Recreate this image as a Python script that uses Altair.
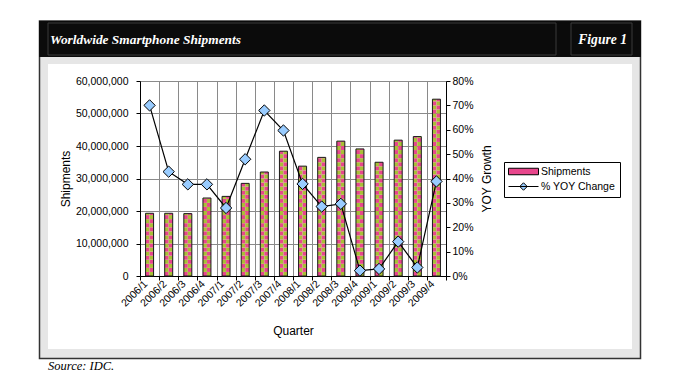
import math
import altair as alt
import pandas as pd

# ---------------- data ----------------
quarters = ["2006/1", "2006/2", "2006/3", "2006/4", "2007/1", "2007/2", "2007/3", "2007/4",
            "2008/1", "2008/2", "2008/3", "2008/4", "2009/1", "2009/2", "2009/3", "2009/4"]
shipments = [19.3e6, 19.3e6, 19.2e6, 24.0e6, 24.5e6, 28.5e6, 32.0e6, 38.4e6,
             33.8e6, 36.5e6, 41.5e6, 39.1e6, 35.0e6, 41.8e6, 42.9e6, 54.4e6]
yoy_growth = [0.700, 0.428, 0.376, 0.376, 0.279, 0.479, 0.679, 0.597,
              0.378, 0.285, 0.296, 0.022, 0.029, 0.141, 0.035, 0.388]
series = ["Shipments", "% YOY Change"]
ship_ticks = [0, 10e6, 20e6, 30e6, 40e6, 50e6, 60e6]
pct_ticks = [0, 0.1, 0.2, 0.3, 0.4, 0.5, 0.6, 0.7, 0.8]

title_text = "Worldwide Smartphone Shipments"
figure_text = "Figure 1"
source_text = "Source: IDC."

# ---------------- styles ----------------
PINK = "#e8468c"
GREEN = "#a9bf35"
BLUE = "#99ccff"
GRID = "#8a8a8a"
PANEL = "#e6e6e6"
DARK = "#333333"
CELL = 1.25e6  # height of one checker cell (in shipment units)

W, H = 306, 195
OX, OY = 140, 81  # page position of plot origin


def px(x):
    return x - OX


def py(y):
    return y - OY


main = pd.DataFrame({"quarter": quarters, "shipments": shipments, "yoy": yoy_growth})
rows = []
for q, v in zip(quarters, shipments):
    n = math.ceil(v / CELL)
    for k in range(n):
        rows.append({"quarter": q, "lo": k * CELL, "hi": min((k + 1) * CELL, v), "par": k % 2})
cells = pd.DataFrame(rows)
legend_df = pd.DataFrame({"series": series})
one = pd.DataFrame({"k": [0]})


def rect(x1, y1, x2, y2, **kw):
    return alt.Chart(one).mark_rect(**kw).encode(
        x=alt.value(px(x1)), x2=alt.value(px(x2)),
        y=alt.value(py(y1)), y2=alt.value(py(y2)))


def text(x, y, s, **kw):
    return alt.Chart(one).mark_text(**kw).encode(
        x=alt.value(px(x)), y=alt.value(py(y)), text=alt.value(s))


xs = alt.Scale(paddingInner=0, paddingOuter=0)
x_axis = alt.Axis(title="Quarter", labelAngle=315, labelAlign="right", labelBaseline="middle",
                  labelPadding=2, labelOffset=-4, tickBand="extent", grid=True, gridColor=GRID,
                  tickSize=4, labelOverlap=False, titleX=W / 2, titleY=58,
                  titleBaseline="alphabetic")
X = alt.X("quarter:N", sort=quarters, scale=xs, axis=x_axis)

ys = alt.Scale(domain=[0, 60e6], nice=False)
yl_axis = alt.Axis(orient="left", values=ship_ticks, format=",.0f", grid=True, gridColor=GRID,
                   tickSize=4, labelPadding=8, title="Shipments", titleAngle=270,
                   titleX=-75, titleY=H / 2, titleBaseline="middle", titleAlign="center")
yr_axis = alt.Axis(orient="right", values=pct_ticks, format=".0%", grid=False, tickSize=4,
                   labelPadding=2, title="YOY Growth", titleAngle=270, titleX=40,
                   titleY=H / 2, titleBaseline="middle", titleAlign="center")
cscale = alt.Scale(domain=[0, 1], range=[PINK, GREEN])

cells_l = alt.Chart(cells).mark_bar(width=4, xOffset=-2).encode(
    x=X, y=alt.Y("lo:Q", scale=ys, axis=yl_axis), y2="hi:Q",
    color=alt.Color("par:N", scale=cscale, legend=None))
cells_r = alt.Chart(cells).transform_calculate(pr="1 - datum.par").mark_bar(width=4, xOffset=2).encode(
    x=X, y=alt.Y("lo:Q", scale=ys, axis=yl_axis), y2="hi:Q",
    color=alt.Color("pr:N", scale=cscale, legend=None))
outline = alt.Chart(main).mark_bar(width=8, fillOpacity=0, stroke="#1a1a1a", strokeWidth=1).encode(
    x=X, y=alt.Y("shipments:Q", scale=ys, axis=yl_axis))
ship_layer = alt.layer(cells_l, cells_r, outline)

line = alt.Chart(main).mark_line(color="black", strokeWidth=1.2).encode(
    x=X, y=alt.Y("yoy:Q", scale=alt.Scale(domain=[0, 0.8], nice=False), axis=yr_axis))
pts = alt.Chart(main).mark_point(shape="diamond", filled=True, fill=BLUE, stroke="black",
                                 strokeWidth=1, size=128, opacity=1).encode(
    x=X, y=alt.Y("yoy:Q", scale=alt.Scale(domain=[0, 0.8], nice=False), axis=yr_axis))
pct_layer = alt.layer(line, pts)

# legend symbols: unit = 5px (symbolSize 100), shifted right so they span ~30px
rect_path = "M-1,-0.65H5V0.65H-1Z"
line_path = "M-1,0H5M2,-0.75L2.75,0L2,0.75L1.25,0Z"
leg = alt.Legend(title=None, orient="none", legendX=364, legendY=81, strokeColor="black",
                 fillColor="white", padding=4, symbolSize=100, labelOffset=22,
                 symbolStrokeWidth=1, labelFontSize=10.5, symbolOpacity=1,
                 labelFont="Liberation Sans", labelColor="black", rowPadding=3)
dummy = alt.Chart(legend_df).mark_point(filled=True, strokeWidth=1, size=100, opacity=1).encode(
    x=alt.value(300), y=alt.value(-42),
    fill=alt.Fill("series:N", sort=series, scale=alt.Scale(domain=series, range=[PINK, BLUE]), legend=leg),
    stroke=alt.Stroke("series:N", sort=series, scale=alt.Scale(domain=series, range=["black", "black"]), legend=leg),
    shape=alt.Shape("series:N", sort=series, scale=alt.Scale(domain=series, range=[rect_path, line_path]), legend=leg))

# ---------------- decoration ----------------
bounds = rect(8, 8, 664, 380, fill="transparent")
strip_t = rect(48, 57, 632, 64, fill=PANEL)
strip_b = rect(48, 349, 632, 358, fill=PANEL)
strip_l = rect(39, 57, 48, 358, fill=PANEL)
strip_r = rect(632, 57, 641, 358, fill=PANEL)
border = rect(39.5, 21, 640.5, 358.5, fill="transparent", stroke=DARK, strokeWidth=1.5)
header = rect(39, 21, 641, 57, fill="#0b0b0b")
title_box = rect(48, 23, 556, 55, fill="transparent", stroke="#3a3a3a", strokeWidth=1)
fig_box = rect(571, 23, 632, 55, fill="transparent", stroke="#3a3a3a", strokeWidth=1)
title_t = text(50, 44, title_text, align="left", baseline="alphabetic", font="Liberation Serif",
               fontStyle="italic", fontWeight="bold", fontSize=13.4, color="white")
fig_t = text(627, 44, figure_text, align="right", baseline="alphabetic", font="Liberation Serif",
             fontStyle="italic", fontWeight="bold", fontSize=13.6, color="white")
src_t = text(48, 370, source_text, align="left", baseline="alphabetic", font="Liberation Serif",
             fontStyle="italic", fontSize=12.5, color="black")

chart = alt.layer(
    bounds, dummy, strip_t, strip_b, strip_l, strip_r, border, header, title_box, fig_box,
    title_t, fig_t, src_t, ship_layer, pct_layer
).resolve_scale(y="independent").properties(
    width=W, height=H, padding=0, background="white"
).configure_view(stroke=None).configure_axis(
    labelFont="Liberation Sans", labelFontSize=10.5, labelColor="black",
    titleFont="Liberation Sans", titleFontSize=12, titleFontWeight="normal", titleColor="black",
    domainColor="black", tickColor="black"
)

chart.save("out.html", embed_options={"renderer": "svg", "actions": False})
